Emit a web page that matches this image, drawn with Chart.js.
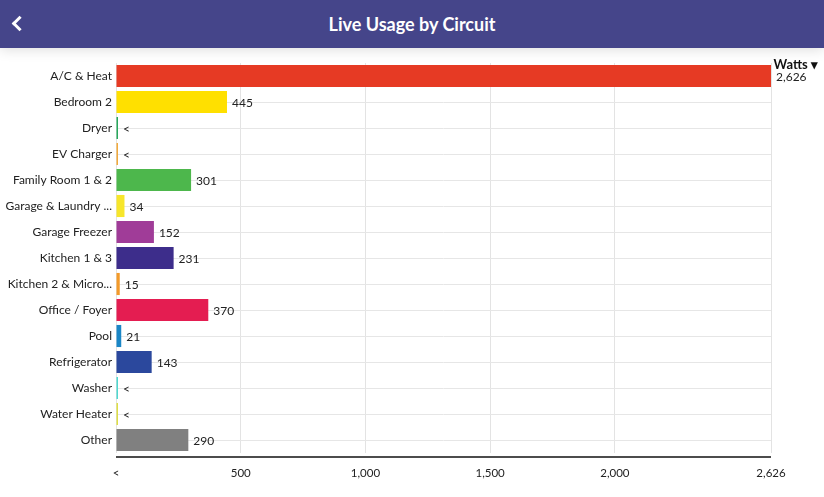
<!DOCTYPE html>
<html>
<head>
<meta charset="utf-8">
<script src="https://cdn.jsdelivr.net/npm/chart.js@4.4.1/dist/chart.umd.min.js"></script>
<style>
  html, body { margin: 0; padding: 0; background: #fff; font-family: Lato, "Open Sans", sans-serif; }
  #header {
    position: relative; height: 48px; background: #45458a; color: #fff;
    box-shadow: 0 2px 12px rgba(0,0,0,0.13);
  }
  #header h1 { margin: 0; font-size: 18px; font-weight: bold; line-height: 48px; text-align: center; }
  #back {
    position: absolute; left: 14px; top: 18px; width: 8px; height: 8px;
    border-left: 3px solid #fff; border-bottom: 3px solid #fff; transform: rotate(45deg);
  }
  #wrap { position: relative; width: 824px; height: 449px; }
  #units { position: absolute; right: 6px; top: 8px; font-size: 13px; font-weight: bold; color: #111; }
</style>
</head>
<body>
<div id="header"><div id="back"></div><h1>Live Usage by Circuit</h1></div>
<div id="wrap">
  <canvas id="usageChart" width="824" height="449"></canvas>
  <div id="units">Watts &#9662;</div>
</div>
<script>
// circuits and live wattage
const circuits = [
  "A/C & Heat", "Bedroom 2", "Dryer", "EV Charger", "Family Room 1 & 2",
  "Garage & Laundry ...", "Garage Freezer", "Kitchen 1 & 3", "Kitchen 2 & Micro...",
  "Office / Foyer", "Pool", "Refrigerator", "Washer", "Water Heater", "Other"
];
const watts = [2626, 445, 0.4, 0.4, 301, 34, 152, 231, 15, 370, 21, 143, 0.4, 0.4, 290];
const circuitColors = [
  "#e63a24", "#ffe000", "#27a85c", "#f2a93b", "#4db74c",
  "#f7e62b", "#a03c98", "#3d2d8b", "#f39a2a", "#e41d51",
  "#1a86c6", "#2b489d", "#4fd8cf", "#dede45", "#808080"
];
const xTicks = [0, 500, 1000, 1500, 2000, 2626];

function fmtWatts(v) {
  if (v < 1) return "<";
  return Math.round(v).toLocaleString("en-US");
}

// write the value just past the end of each bar, and the base line a bit below the bars
const valueLabels = {
  id: "valueLabels",
  afterDatasetsDraw(chart) {
    const ctx = chart.ctx;
    const meta = chart.getDatasetMeta(0);
    const area = chart.chartArea;
    ctx.save();
    ctx.strokeStyle = "#111";
    ctx.lineWidth = 1.5;
    ctx.beginPath();
    ctx.moveTo(area.left, area.bottom + 4);
    ctx.lineTo(area.right, area.bottom + 4);
    ctx.stroke();
    ctx.font = "12px Lato, 'Open Sans', sans-serif";
    ctx.fillStyle = "#222";
    ctx.textBaseline = "middle";
    ctx.textAlign = "left";
    meta.data.forEach((bar, i) => {
      ctx.fillText(fmtWatts(watts[i]), bar.x + 5, bar.y + 1);
    });
    ctx.restore();
  }
};

const ctx = document.getElementById("usageChart").getContext("2d");
new Chart(ctx, {
  type: "bar",
  data: {
    labels: circuits,
    datasets: [{
      data: watts,
      backgroundColor: circuitColors,
      borderWidth: 0,
      barPercentage: 0.85,
      categoryPercentage: 1.0,
      minBarLength: 2,
    }],
  },
  options: {
    indexAxis: "y",
    responsive: false,
    animation: false,
    layout: { padding: { top: 15, right: 53, left: 0, bottom: 0 } },
    plugins: {
      legend: { display: false },
      tooltip: { enabled: false },
    },
    scales: {
      x: {
        min: 0,
        max: 2626,
        afterBuildTicks: (axis) => { axis.ticks = xTicks.map((v) => ({ value: v })); },
        afterFit: (axis) => { axis.height = 44; },
        border: { display: false },
        grid: { color: "#e3e3e3", drawTicks: false },
        ticks: {
          padding: 13,
          color: "#222",
          font: { family: "Lato, 'Open Sans', sans-serif", size: 11.5 },
          maxRotation: 0,
          callback: (value) => fmtWatts(value),
        },
      },
      y: {
        afterFit: (axis) => { axis.width = 116; },
        border: { display: false },
        grid: { color: "#e6e6e6", offset: false, drawTicks: false },
        ticks: {
          padding: 4,
          color: "#222",
          font: { family: "Lato, 'Open Sans', sans-serif", size: 12 },
        },
      },
    },
  },
  plugins: [valueLabels],
});
</script>
</body>
</html>
